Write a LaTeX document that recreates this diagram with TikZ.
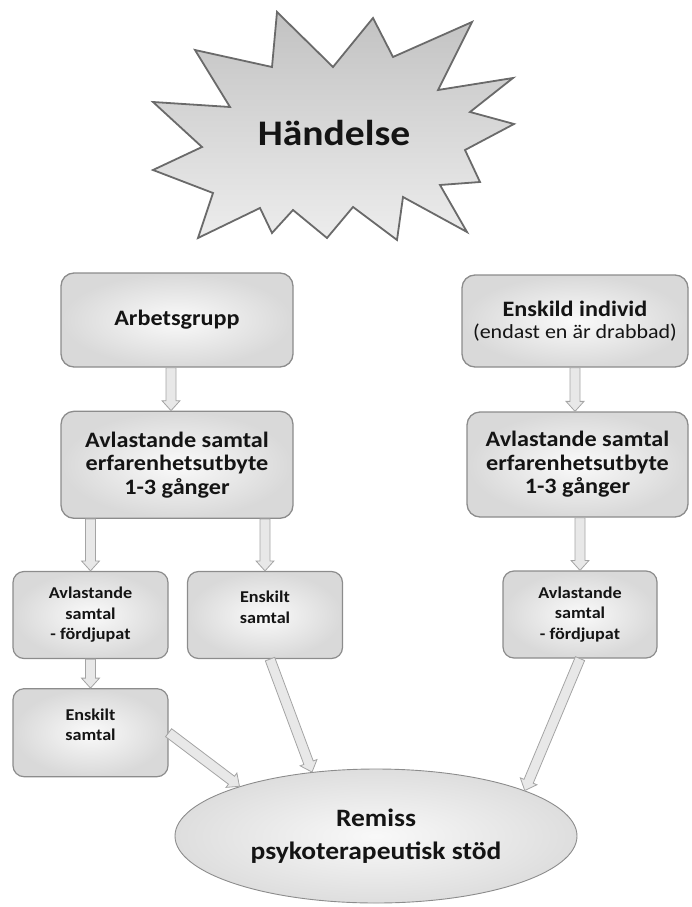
\documentclass[tikz,border=0pt]{standalone}
\usepackage{fontspec}
\setmainfont{Carlito}[FakeStretch=1.1]
\usetikzlibrary{calc,positioning,shapes.geometric}

\definecolor{starline}{HTML}{6A6A6A}
\definecolor{boxline}{HTML}{8C8C8C}
\definecolor{arrline}{HTML}{A4A4A4}
\definecolor{arrfill}{HTML}{E8E8E8}

\tikzset{
  starshape/.style={draw=starline, line width=1.8pt, line join=miter, top color=gray!48, bottom color=gray!14},
  groupbox/.style={draw=boxline, line width=1.3pt, rounded corners=13pt, inner color=gray!4, outer color=gray!30,
    align=center, text=black!92, font=\fontsize{22}{23.5}\selectfont\bfseries},
  minibox/.style={draw=boxline, line width=1.2pt, rounded corners=11pt, inner color=gray!4, outer color=gray!30,
    align=center, text=black!92, minimum width=155pt, minimum height=87pt, font=\fontsize{16.5}{20.5}\selectfont\bfseries},
  bigarrow/.style={draw=arrline, line width=0.8pt, fill=arrfill, line join=miter}
}

% block arrow from #1 to #2
\newcommand{\blockarrow}[2]{%
  \path let \p1=($(#2)-(#1)$) in \pgfextra{%
    \pgfmathsetmacro\arrang{atan2(\y1,\x1)}\pgfmathsetmacro\arrlen{veclen(\x1,\y1)}%
    \global\let\arrang\arrang\global\let\arrlen\arrlen};
  \draw[bigarrow, shift={(#1)}, rotate=\arrang] (0,5) -- (\arrlen-10,5) -- (\arrlen-10,9) -- (\arrlen,0)
    -- (\arrlen-10,-9) -- (\arrlen-10,-5) -- (0,-5) -- cycle;
}

\begin{document}
\begin{tikzpicture}[x=1pt,y=1pt]
 \useasboundingbox (0,0) rectangle (691,-907);

    % draw star
    \draw[starshape] (277,-12) -- (333,-67) -- (373,-18) -- (393,-57) -- (472,-22) -- (438,-90)
      -- (513,-78) -- (470,-112) -- (514,-124) -- (465,-150) -- (480,-182) -- (440,-185)
      -- (467,-232) -- (403,-197) -- (397,-240) -- (353,-207) -- (327,-238) -- (293,-210)
      -- (272,-233) -- (260,-208) -- (198,-238) -- (213,-193) -- (153,-170) -- (202,-147)
      -- (153,-102) -- (230,-107) -- (195,-50) -- (272,-67) -- cycle;
    \node[text=black!92, font=\fontsize{36}{40}\selectfont\bfseries] (hand) at (334,-133) {Händelse};

    % draw boxes, left branch
    \node[groupbox, minimum width=232pt, minimum height=94pt] (arb) at (177,-320) {Arbetsgrupp};
    \node[groupbox, minimum width=232pt, minimum height=107pt, below=43pt of arb] (avlL)
      {Avlastande samtal\\erfarenhetsutbyte\\1-3 gånger};
    \node[minibox] (fdL) at (90.5,-615) {Avlastande\\samtal\\- fördjupat};
    \node[minibox] (enkM) at (265,-615) {Enskilt\\samtal\\[-11pt]\strut};
    \node[minibox, minimum height=88pt, below=29pt of fdL] (enkL) {Enskilt\\samtal\\[-11pt]\strut};

    % draw boxes, right branch
    \node[groupbox, minimum width=226pt, minimum height=92pt] (ind) at (575,-321)
      {Enskild individ\\[-2pt]\fontsize{20}{21}\selectfont\mdseries(endast en är drabbad)};
    \node[groupbox, minimum width=221pt, minimum height=105pt] (avlR) at (577.5,-464.5)
      {Avlastande samtal\\erfarenhetsutbyte\\1-3 gånger};
    \node[minibox, minimum width=154pt] (fdR) at (580,-614.5) {Avlastande\\samtal\\- fördjupat};

    % draw referral
    \node[ellipse, draw=boxline, line width=0.9pt, inner color=gray!5, outer color=gray!26,
      minimum width=402pt, minimum height=134pt, align=center, text=black!92,
      font=\fontsize{25}{33}\selectfont\bfseries] (rem) at (376,-836) {Remiss\\psykoterapeutisk stöd};

    % draw arrows
    \blockarrow{[xshift=-6pt]arb.south}{[xshift=-6pt]avlL.north}
    \blockarrow{ind.south}{ind.south |- avlR.north}
    \blockarrow{fdL.north |- avlL.south}{fdL.north}
    \blockarrow{enkM.north |- avlL.south}{enkM.north}
    \blockarrow{fdR.north |- avlR.south}{fdR.north}
    \blockarrow{fdL.south}{enkL.north}
    \blockarrow{enkL.east}{rem.160}
    \blockarrow{[xshift=5pt]enkM.south}{rem.135}
    \blockarrow{fdR.south}{rem.17}
\end{tikzpicture}
\end{document}
